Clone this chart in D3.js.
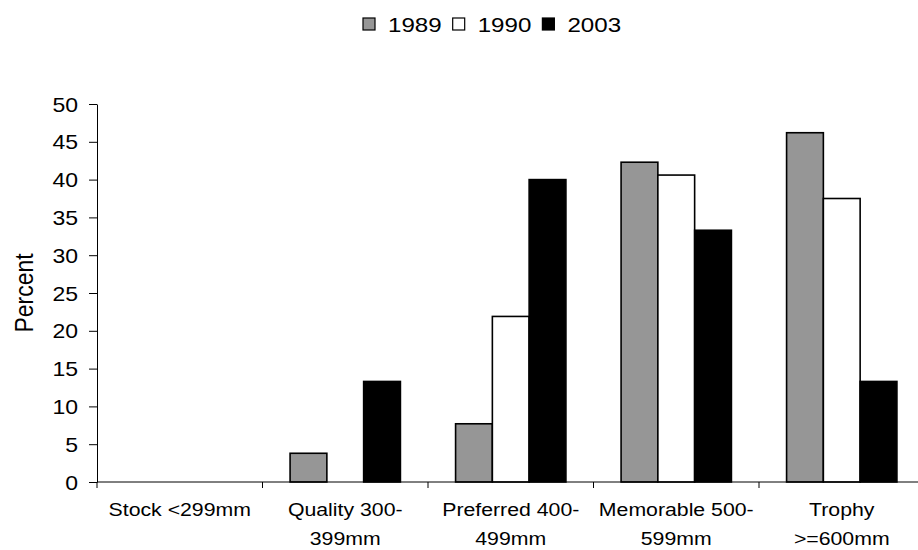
<!DOCTYPE html>
<html>
<head>
<meta charset="utf-8">
<script src="https://cdn.jsdelivr.net/npm/d3@7"></script>
<style>
  html, body { margin: 0; padding: 0; background: #fff; }
  svg { display: block; font-family: "Liberation Sans", Arial, sans-serif; }
</style>
</head>
<body>
<svg id="chart" width="918" height="550"></svg>
<script>
// Length-class categories (two-line labels)
const categories = ["Stock <299mm", "Quality 300-399mm", "Preferred 400-499mm", "Memorable 500-599mm", "Trophy >=600mm"];
const categoryLines = [["Stock <299mm"], ["Quality 300-", "399mm"], ["Preferred 400-", "499mm"], ["Memorable 500-", "599mm"], ["Trophy", ">=600mm"]];
const seriesNames = ["1989", "1990", "2003"];
const values1989 = [0, 3.8, 7.7, 42.3, 46.2];
const values1990 = [0, 0, 21.9, 40.6, 37.5];
const values2003 = [0, 13.3, 40.0, 33.3, 13.3];
const seriesColors = ["#969696", "#ffffff", "#000000"];
const yTicks = [0, 5, 10, 15, 20, 25, 30, 35, 40, 45, 50];

const seriesValues = [values1989, values1990, values2003];

// Text in this chart is set slightly wide
const sx = 1.15;

const svg = d3.select("#chart");
const plotLeft = 97, plotRight = 924.5, plotTop = 104, plotBottom = 482;

const x0 = d3.scaleBand().domain(categories).range([plotLeft, plotRight]).paddingInner(0).paddingOuter(0);
const x1 = d3.scaleBand().domain(seriesNames).range([0, x0.bandwidth()]).paddingInner(0).paddingOuter(0.75);
const y = d3.scaleLinear().domain([0, 50]).range([plotBottom, plotTop]);

// Bars
const groups = svg.append("g").selectAll("g")
  .data(categories)
  .join("g")
  .attr("transform", d => `translate(${x0(d)},0)`);

groups.selectAll("rect")
  .data((c, i) => seriesNames.map((s, j) => ({ s, j, v: seriesValues[j][i] })).filter(d => d.v > 0))
  .join("rect")
  .attr("x", d => x1(d.s))
  .attr("y", d => y(d.v))
  .attr("width", x1.bandwidth())
  .attr("height", d => y(0) - y(d.v))
  .attr("fill", d => seriesColors[d.j])
  .attr("stroke", "#000")
  .attr("stroke-width", 1.6);

// Y axis
const yAxis = svg.append("g")
  .attr("transform", `translate(${plotLeft},0)`)
  .call(d3.axisLeft(y).tickValues(yTicks).tickSize(8).tickSizeOuter(0));
yAxis.select(".domain").attr("stroke", "#000").attr("stroke-width", 1);
yAxis.selectAll(".tick line").attr("stroke", "#000");
yAxis.selectAll("text")
  .attr("x", null)
  .attr("dy", "0.35em")
  .attr("transform", `translate(-19,0) scale(${sx},1)`)
  .attr("text-anchor", "end")
  .attr("font-size", 20)
  .attr("fill", "#000")
  .attr("font-family", "Liberation Sans, Arial, sans-serif");

// X axis line and category boundary ticks
const xAxis = svg.append("g");
xAxis.append("line")
  .attr("x1", plotLeft).attr("x2", plotRight).attr("y1", y(0)).attr("y2", y(0))
  .attr("stroke", "#000").attr("stroke-width", 1);
xAxis.selectAll("line.tick")
  .data(categories)
  .join("line")
  .attr("class", "tick")
  .attr("x1", d => x0(d)).attr("x2", d => x0(d))
  .attr("y1", y(0)).attr("y2", y(0) + 6)
  .attr("stroke", "#000").attr("stroke-width", 1);

// Category labels
const labels = svg.append("g").selectAll("text")
  .data(categories)
  .join("text")
  .attr("transform", d => `translate(${x0(d) + x0.bandwidth() / 2},516) scale(${sx},1)`)
  .attr("text-anchor", "middle")
  .attr("font-size", 18.5)
  .attr("fill", "#000");
labels.each(function (d, i) {
  const t = d3.select(this);
  categoryLines[i].forEach((line, k) => {
    t.append("tspan")
      .attr("x", 0)
      .attr("dy", k === 0 ? 0 : 29)
      .text(line);
  });
});

// Y axis title
svg.append("text")
  .attr("transform", `translate(33,${(plotTop + plotBottom) / 2}) scale(${sx},1) rotate(-90)`)
  .attr("text-anchor", "middle")
  .attr("font-size", 23)
  .attr("fill", "#000")
  .text("Percent");

// Legend
const legend = svg.append("g");
let lx = 363;
legend.selectAll("g")
  .data(seriesNames)
  .join("g")
  .each(function (name, i) {
    const g = d3.select(this);
    g.append("rect")
      .attr("x", lx).attr("y", 18)
      .attr("width", 12).attr("height", 12)
      .attr("fill", seriesColors[i])
      .attr("stroke", "#000").attr("stroke-width", 1.2);
    const t = g.append("text")
      .attr("transform", `translate(${lx + 25},31.5) scale(${sx},1)`)
      .attr("font-size", 21)
      .attr("fill", "#000")
      .text(name);
    lx += 25 + t.node().getComputedTextLength() * sx + 11;
  });
</script>
</body>
</html>
